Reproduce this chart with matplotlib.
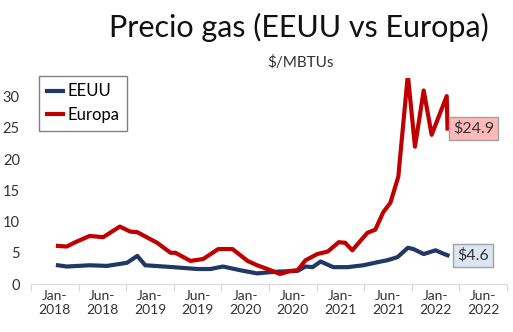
import matplotlib.pyplot as plt

plt.rcParams['font.family'] = ['Lato', 'DejaVu Sans']

# x en meses desde el inicio del eje (marcas cada 6)
tick_labels = ['Jan-\n2018', 'Jun-\n2018', 'Jan-\n2019', 'Jun-\n2019', 'Jan-\n2020',
               'Jun-\n2020', 'Jan-\n2021', 'Jun-\n2021', 'Jan-\n2022', 'Jun-\n2022']

eu_x = [3.4, 4.5, 5.6, 7.4, 9.1, 11.2, 12.5, 13.4, 15.9, 17.6, 18.2, 20.1, 21.7, 23.6,
        25.4, 27.3, 28.5, 29.8, 31.4, 32.7, 33.6, 34.6, 36.1, 37.4, 38.8, 39.6, 40.5,
        42.4, 43.4, 44.4, 45.3, 46.3, 47.5, 48.4, 49.5, 50.5, 52.4, 52.5]
eu_y = [6.1, 6.0, 6.7, 7.7, 7.5, 9.2, 8.4, 8.3, 6.6, 5.0, 5.0, 3.7, 4.0, 5.6,
        5.6, 3.7, 3.0, 2.4, 1.6, 2.1, 2.2, 3.8, 4.8, 5.2, 6.7, 6.6, 5.4,
        8.2, 8.7, 11.5, 13.0, 17.2, 33.5, 22.0, 31.0, 23.9, 30.1, 24.9]

us_x = [3.4, 4.5, 7.4, 9.6, 12.1, 13.4, 14.4, 17.9, 21.0, 22.6, 24.2, 26.4, 28.5, 30.2,
        31.4, 33.6, 34.6, 35.5, 36.5, 38.1, 39.9, 41.9, 43.7, 44.9, 46.2, 47.5, 48.2,
        49.5, 51.0, 51.9, 52.5]
us_y = [3.0, 2.8, 3.0, 2.9, 3.4, 4.5, 3.0, 2.7, 2.4, 2.4, 2.8, 2.2, 1.7, 1.9,
        2.0, 2.1, 2.8, 2.7, 3.6, 2.7, 2.7, 3.0, 3.5, 3.8, 4.3, 5.8, 5.6,
        4.8, 5.4, 4.9, 4.6]

navy = '#1F3864'
red = '#C00000'

fig = plt.figure(figsize=(5.13, 3.32), dpi=100)
ax = fig.add_axes([31 / 513, 48 / 332, 476 / 513, 206 / 332])

ax.plot(us_x, us_y, color=navy, lw=3, label='EEUU', solid_joinstyle='round')
ax.plot(eu_x, eu_y, color=red, lw=3, label='Europa', solid_joinstyle='round')

ax.set_xlim(0, 60)
ax.set_ylim(0, 33)
ax.set_yticks(range(0, 31, 5))
ax.set_xticks(range(0, 61, 6))
ax.set_xticklabels([])
ax.set_xticks([3 + 6 * i for i in range(len(tick_labels))], minor=True)
ax.set_xticklabels(tick_labels, minor=True, fontsize=10, color='#333333')
ax.tick_params(axis='x', which='major', length=5, color='#D9D9D9', direction='out')
ax.tick_params(axis='x', which='minor', length=0, pad=4)
ax.tick_params(axis='y', length=0, labelsize=10.5, labelcolor='#333333', pad=8)
for s in ['top', 'right', 'left']:
    ax.spines[s].set_visible(False)
ax.spines['bottom'].set_color('#D9D9D9')

# etiquetas del ultimo valor
ax.annotate('$%.1f' % eu_y[-1], (eu_x[-1], eu_y[-1]), xytext=(4, 0),
            textcoords='offset points', ha='left', va='center', fontsize=11.5,
            color='#333333',
            bbox=dict(boxstyle='square,pad=0.25', fc='#FFB9B9', ec='#A0A0A0', lw=1))
ax.annotate('$%.1f' % us_y[-1], (us_x[-1], us_y[-1]), xytext=(7, 0),
            textcoords='offset points', ha='left', va='center', fontsize=11.5,
            color='#333333',
            bbox=dict(boxstyle='square,pad=0.25', fc='#DCE6F2', ec='#A0A0A0', lw=1))

leg = fig.legend(loc='upper left', bbox_to_anchor=(39 / 513, 1 - 76 / 332),
                 borderaxespad=0, fancybox=False, edgecolor='#808080', fontsize=12,
                 handlelength=1.0, handletextpad=0.25, borderpad=0.45,
                 labelspacing=0.45, framealpha=1)
leg.get_frame().set_linewidth(1)

fig.text(0.583, 1 - 37 / 332, 'Precio gas (EEUU vs Europa)', ha='center',
         va='baseline', fontsize=22, color='#111111')
fig.text(0.585, 1 - 67 / 332, '$/MBTUs', ha='center', va='baseline', fontsize=11,
         color='#333333')

fig.savefig('out.png', dpi=100)
